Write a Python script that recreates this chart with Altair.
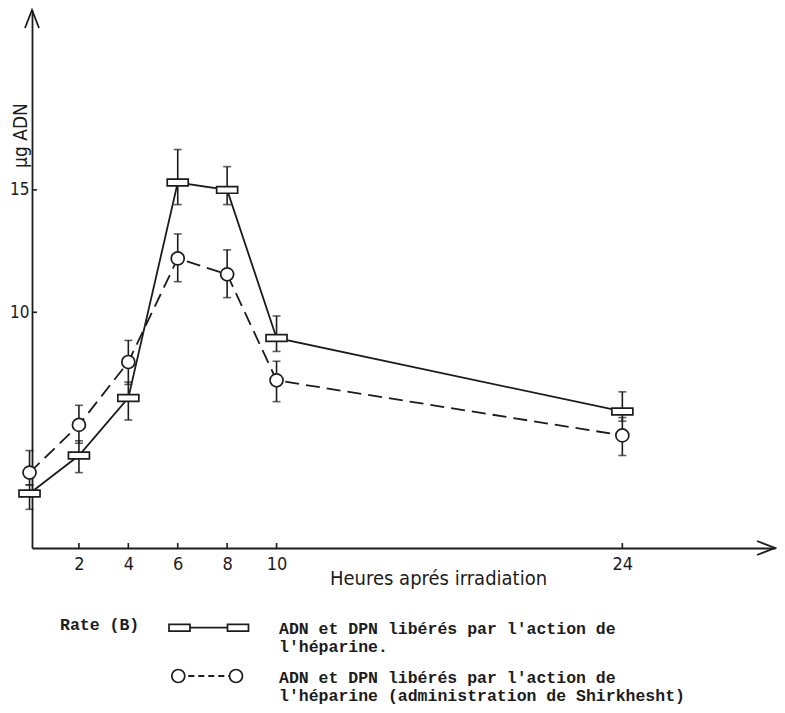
import altair as alt
import pandas as pd

# ---- data ----
hours = [0, 2, 4, 6, 8, 10, 24]
heparine = [2.6, 4.15, 6.5, 15.3, 15.0, 8.95, 5.95]
heparine_hi = [2.95, 4.75, 7.15, 16.65, 15.95, 9.85, 6.75]
heparine_lo = [1.95, 3.45, 5.6, 14.4, 14.4, 8.4, 5.55]
shirkhesht = [3.45, 5.4, 7.97, 12.2, 11.55, 7.22, 4.97]
shirkhesht_hi = [4.35, 6.2, 8.85, 13.2, 12.55, 8.0, 5.7]
shirkhesht_lo = [2.95, 4.65, 7.05, 11.25, 10.6, 6.35, 4.15]
x_ticks = [2, 4, 6, 8, 10, 24]
y_ticks = [10, 15]

x_title = "Heures aprés irradiation"
y_title = "µg ADN"
legend_group = "Rate (B)"
legend_h = ["ADN et DPN libérés par l'action de", "l'héparine."]
legend_s = ["ADN et DPN libérés par l'action de",
            "l'héparine (administration de Shirkhesht)"]

df_h = pd.DataFrame({"hours": hours, "value": heparine, "lo": heparine_lo, "hi": heparine_hi})
df_s = pd.DataFrame({"hours": hours, "value": shirkhesht, "lo": shirkhesht_lo, "hi": shirkhesht_hi})
df_xt = pd.DataFrame({"hours": x_ticks})
df_yt = pd.DataFrame({"value": y_ticks})
one = alt.InlineData(values=[{"k": 1}])

# ---- styling ----
INK = "#1c1c1c"
W, H = 743, 538
AX_FONT = "DejaVu Sans Condensed, Liberation Sans Narrow, DejaVu Sans, sans-serif"
MONO = "Liberation Mono, DejaVu Sans Mono, monospace"
SQUARE = "M-1,-0.32L1,-0.32L1,0.32L-1,0.32Z"

xs = alt.Scale(domain=[0.1, 30.18], nice=False, zero=False)
ys = alt.Scale(domain=[0.37, 22.35], nice=False, zero=False)

x_axis = alt.Axis(title=x_title, values=x_ticks, ticks=False, tickSize=0, grid=False,
                  domainColor=INK, domainWidth=1.8, labelFont=AX_FONT, labelFontSize=18,
                  labelColor=INK, labelPadding=7, labelFlush=False, labelOverlap=False,
                  titleFont=AX_FONT, titleFontSize=20, titleFontWeight="normal",
                  titleColor=INK, titleX=406, titleY=30, titleBaseline="middle",
                  titleAlign="center")
y_axis = alt.Axis(title=y_title, values=y_ticks, ticks=False, tickSize=0, grid=False,
                  domainColor=INK, domainWidth=1.8, labelFont=AX_FONT, labelFontSize=17,
                  labelColor=INK, labelPadding=3, labelFlush=False,
                  titleFont=AX_FONT, titleFontSize=19, titleFontWeight="normal",
                  titleColor=INK, titleX=-12, titleY=125, titleAngle=270,
                  titleBaseline="middle", titleAlign="center")


def X(f):
    return alt.X(f, type="quantitative", scale=xs, axis=x_axis)


def Y(f):
    return alt.Y(f, type="quantitative", scale=ys, axis=y_axis)


layers = []

# custom inward ticks
layers.append(alt.Chart(df_xt).mark_rule(color=INK, strokeWidth=1.6).encode(
    x=X("hours"), y=alt.value(H), y2=alt.value(H - 5)))
layers.append(alt.Chart(df_yt).mark_rule(color=INK, strokeWidth=1.6).encode(
    y=Y("value"), x=alt.value(0), x2=alt.value(5)))

# error bars and caps
for d in (df_h, df_s):
    layers.append(alt.Chart(d).mark_rule(color=INK, strokeWidth=1.6).encode(
        x=X("hours"), y=Y("lo"), y2=alt.Y2("hi")))
    layers.append(alt.Chart(d).transform_fold(["lo", "hi"], as_=["end", "cap"]).mark_tick(
        orient="horizontal", color=INK, size=8, thickness=1.6).encode(
        x=X("hours"), y=Y("cap:Q")))

# lines
layers.append(alt.Chart(df_h).mark_line(color=INK, strokeWidth=1.8).encode(
    x=X("hours"), y=Y("value")))
layers.append(alt.Chart(df_s).mark_line(color=INK, strokeWidth=1.8, strokeDash=[14, 7]).encode(
    x=X("hours"), y=Y("value")))

# markers
layers.append(alt.Chart(df_h).mark_point(shape=SQUARE, size=441, filled=False, fill="white",
                                         fillOpacity=1, stroke=INK, strokeWidth=1.7,
                                         opacity=1).encode(x=X("hours"), y=Y("value")))
layers.append(alt.Chart(df_s).mark_point(shape="circle", size=169, filled=False, fill="white",
                                         fillOpacity=1, stroke=INK, strokeWidth=1.7,
                                         opacity=1).encode(x=X("hours"), y=Y("value")))

# axis arrowheads
layers.append(alt.Chart(one).mark_point(shape="M-1,-0.39L0,0L-1,0.39", size=1296, filled=False,
                                        stroke=INK, strokeWidth=1.8, opacity=1).encode(
    x=alt.value(W), y=alt.value(H)))
layers.append(alt.Chart(one).mark_point(shape="M-0.39,1L0,0L0.39,1", size=1296, filled=False,
                                        stroke=INK, strokeWidth=1.8, opacity=1).encode(
    x=alt.value(0), y=alt.value(0)))

# ---- legend drawn below the plot ----
def txt(s, x, y):
    return alt.Chart(one).mark_text(align="left", baseline="middle", font=MONO, fontSize=16.5,
                                    fontWeight="bold", color=INK).encode(
        x=alt.value(x), y=alt.value(y), text=alt.value(s))


layers.append(txt(legend_group, 28, 615))
layers.append(txt(legend_h[0], 247, 619))
layers.append(txt(legend_h[1], 247, 637))
layers.append(txt(legend_s[0], 247, 668))
layers.append(txt(legend_s[1], 247, 686))

layers.append(alt.Chart(one).mark_rule(color=INK, strokeWidth=1.8).encode(
    x=alt.value(147.5), x2=alt.value(206), y=alt.value(617.7)))
layers.append(alt.Chart(one).mark_rule(color=INK, strokeWidth=1.8, strokeDash=[6, 4]).encode(
    x=alt.value(146.3), x2=alt.value(204), y=alt.value(666)))
for xv in (147.5, 206):
    layers.append(alt.Chart(one).mark_point(shape=SQUARE, size=441, filled=False, fill="white",
                                            fillOpacity=1, stroke=INK, strokeWidth=1.7,
                                            opacity=1).encode(x=alt.value(xv), y=alt.value(617.7)))
for xv in (146.3, 204):
    layers.append(alt.Chart(one).mark_point(shape="circle", size=169, filled=False, fill="white",
                                            fillOpacity=1, stroke=INK, strokeWidth=1.7,
                                            opacity=1).encode(x=alt.value(xv), y=alt.value(666)))

chart = alt.layer(*layers).properties(
    width=W, height=H,
    padding={"left": 24, "top": 2, "right": 2, "bottom": 157},
    autosize=alt.AutoSizeParams(type="none"),
    background="white",
).configure_view(stroke=None)

chart.save("out.html", embed_options={"renderer": "svg", "actions": False})
